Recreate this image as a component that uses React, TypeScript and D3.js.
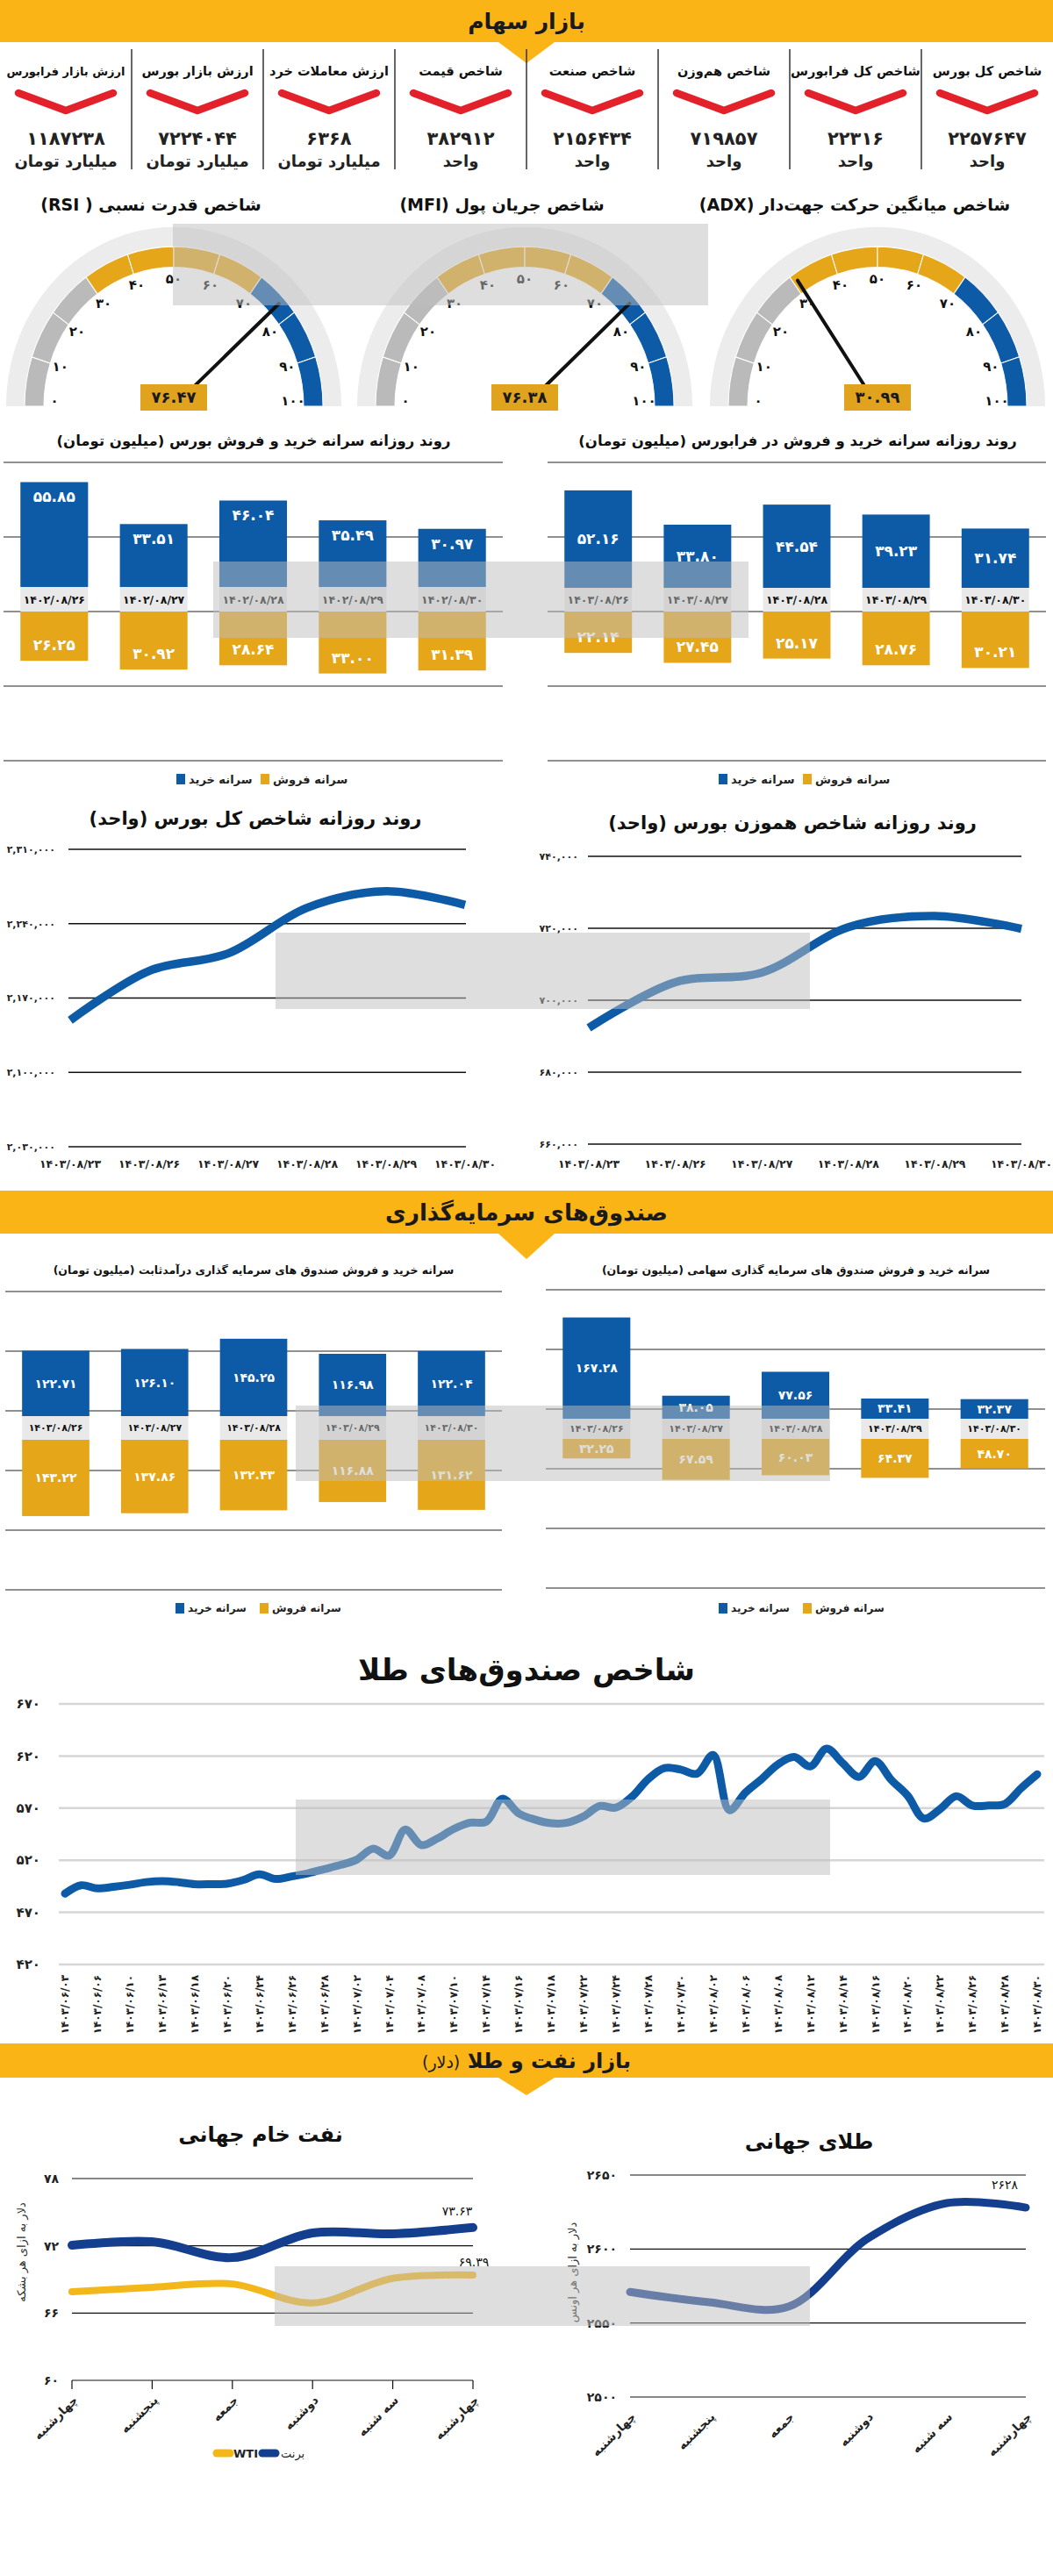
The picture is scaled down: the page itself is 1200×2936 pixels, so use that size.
import React from "react";
import * as d3 from "d3";

const FA_DIGITS = "۰۱۲۳۴۵۶۷۸۹";
const fa = (s: string | number) => String(s).replace(/[0-9]/g, (d) => FA_DIGITS[+d]);
const FONT = '"DejaVu Sans", sans-serif';

const BAND_YELLOW = "#fbb416";
const BLUE = "#0d5ba7";
const GOLD = "#e5a61a";
const NAVY = "#143f8e";
const GAUGE_GRAY = "#bababa";

// ---------------- DATA ----------------
const statTitles = ["شاخص کل بورس", "شاخص کل فرابورس", "شاخص هم‌وزن", "شاخص صنعت", "شاخص قیمت", "ارزش معاملات خرد", "ارزش بازار بورس", "ارزش بازار فرابورس"];
const statValues = [2257647, 22316, 719857, 2156434, 382912, 6368, 7224044, 1187238];
const statUnits = ["واحد", "واحد", "واحد", "واحد", "واحد", "میلیارد تومان", "میلیارد تومان", "میلیارد تومان"];

const gaugeTitles = ["شاخص قدرت نسبی ( RSI)", "شاخص جریان پول (MFI)", "شاخص میانگین حرکت جهت‌دار (ADX)"];
const gaugeValues = [76.47, 76.38, 30.99];
const gaugeTicks = [0, 10, 20, 30, 40, 50, 60, 70, 80, 90, 100];
const gaugeZoneBreaks = [30, 70];

const bourseDates = ["1402/08/26", "1402/08/27", "1402/08/28", "1402/08/29", "1402/08/30"];
const bourseBuy = [55.85, 33.51, 46.04, 35.49, 30.97];
const bourseSell = [26.25, 30.92, 28.64, 33.0, 31.39];

const farabourseDates = ["1403/08/26", "1403/08/27", "1403/08/28", "1403/08/29", "1403/08/30"];
const farabourseBuy = [52.16, 33.8, 44.54, 39.23, 31.74];
const farabourseSell = [22.14, 27.45, 25.17, 28.76, 30.21];

const indexDates = ["1403/08/23", "1403/08/26", "1403/08/27", "1403/08/28", "1403/08/29", "1403/08/30"];
const totalIndex = [2149000, 2195500, 2212000, 2255000, 2270500, 2257647];
const totalIndexTicks = [2030000, 2100000, 2170000, 2240000, 2310000];
const equalIndex = [692300, 705000, 707700, 720300, 723400, 719857];
const equalIndexTicks = [660000, 680000, 700000, 720000, 740000];

const fundDates = ["1403/08/26", "1403/08/27", "1403/08/28", "1403/08/29", "1403/08/30"];
const fixedBuy = [122.71, 126.1, 145.25, 116.98, 122.04];
const fixedSell = [143.22, 137.86, 132.43, 116.88, 131.62];
const equityBuy = [167.28, 38.05, 77.56, 33.41, 32.37];
const equitySell = [32.25, 67.59, 60.03, 64.37, 48.7];

const goldFundLabels = ["1403/06/03", "1403/06/06", "1403/06/10", "1403/06/13", "1403/06/18", "1403/06/20", "1403/06/24", "1403/06/26", "1403/06/28", "1403/07/02", "1403/07/04", "1403/07/08", "1403/07/10", "1403/07/14", "1403/07/16", "1403/07/18", "1403/07/22", "1403/07/24", "1403/07/28", "1403/07/30", "1403/08/02", "1403/08/06", "1403/08/08", "1403/08/12", "1403/08/14", "1403/08/16", "1403/08/20", "1403/08/22", "1403/08/26", "1403/08/28", "1403/08/30"];
const goldFundValues = [488, 496, 493, 494.5, 496.5, 499, 500, 499, 497, 497, 497.5, 501, 506.5, 502, 504.5, 507.5, 511.5, 515.5, 520.5, 531, 524.5, 549.5, 534.5, 541, 550, 556, 557, 579, 565, 559, 555.5, 556, 562, 572, 570.5, 581, 598, 608.5, 607, 603, 621, 568, 585, 598, 612, 619, 610, 627, 613, 600, 615, 597, 582, 560, 569, 581.5, 572.5, 572.5, 574, 589, 602.5];
const goldFundTicks = [420, 470, 520, 570, 620, 670];

const weekDays = ["چهارشنبه", "پنجشنبه", "جمعه", "دوشنبه", "سه شنبه", "چهارشنبه "];
const brent = [72.05, 72.36, 70.95, 73.15, 73.07, 73.63];
const wti = [67.9, 68.3, 68.6, 66.9, 69.1, 69.39];
const oilTicks = [60, 66, 72, 78];
const worldGold = [2571, 2564, 2561, 2607, 2631, 2628];
const worldGoldTicks = [2500, 2550, 2600, 2650];

// ---------------- COMPONENTS ----------------
function SectionBand({ y, h, apex, children, size }: any) {
  return (
    <g>
      <rect x={0} y={y} width={1200} height={h} fill={BAND_YELLOW} />
      <path d={`M568,${y + h} L632,${y + h} L600,${apex} Z`} fill={BAND_YELLOW} />
      <text x={600} y={y + h / 2} dy="0.36em" textAnchor="middle" direction="rtl" fontSize={size} fontWeight="bold" fill="#1a1a1a">
        {children}
      </text>
    </g>
  );
}

function StatsRow() {
  return (
    <g>
      {d3.range(1, 8).map((k) => (
        <line key={k} x1={150 * k} x2={150 * k} y1={56} y2={193} stroke="#333" strokeWidth={1.5} />
      ))}
      {statTitles.map((t, i) => {
        const cx = 1125 - 150 * i;
        return (
          <g key={i}>
            <text x={cx} y={86} textAnchor="middle" direction="rtl" fontSize={t.length > 16 ? 13 : 14.5} fontWeight="bold" fill="#111">{t}</text>
            <path d={`M${cx - 54},${106} L${cx},${126} L${cx + 54},${106}`} fill="none" stroke="#e3212b" strokeWidth={8.5} strokeLinecap="round" strokeLinejoin="round" />
            <text x={cx} y={165} textAnchor="middle" fontSize={21} fontWeight="bold" fill="#222">{fa(statValues[i])}</text>
            <text x={cx} y={190} textAnchor="middle" direction="rtl" fontSize={18} fontWeight="bold" fill="#222">{statUnits[i]}</text>
          </g>
        );
      })}
    </g>
  );
}

function Gauge({ cx, cy, value, title }: any) {
  const sy = 1.07;
  const ang = (v: number) => ((-90 + v * 1.8) * Math.PI) / 180;
  const arc = d3.arc<any>();
  const bg = arc({ innerRadius: 170, outerRadius: 191, startAngle: -Math.PI / 2, endAngle: Math.PI / 2 });
  const segs = d3.range(0, 100, 10).map((v) => ({
    v,
    d: arc({ innerRadius: 148, outerRadius: 170, startAngle: ang(v), endAngle: ang(v + 10) }),
    c: v < gaugeZoneBreaks[0] ? GAUGE_GRAY : v < gaugeZoneBreaks[1] ? GOLD : BLUE,
  }));
  const a = ang(value);
  const pt = (r: number, an: number) => [cx + r * Math.sin(an), cy - r * Math.cos(an) * sy];
  const [nx1, ny1] = pt(28, a);
  const [nx2, ny2] = pt(162, a);
  return (
    <g>
      <text x={cx - 26} y={240} textAnchor="middle" direction="rtl" fontSize={19} fontWeight="bold" fill="#111">{title}</text>
      <g transform={`translate(${cx},${cy}) scale(1,${sy})`}>
        <path d={bg as string} fill="#ececec" />
        {segs.map((s) => (
          <path key={s.v} d={s.d as string} fill={s.c} stroke="#fff" strokeWidth={1} />
        ))}
      </g>
      {gaugeTicks.map((t) => {
        const [lx, ly] = pt(136, ang(t));
        return (
          <text key={t} x={lx} y={ly - (t === 0 || t === 100 ? 6 : 0)} dy="0.35em" textAnchor="middle" fontSize={15} fontWeight="bold" fill="#111">{fa(t)}</text>
        );
      })}
      <line x1={nx1} y1={ny1} x2={nx2} y2={ny2} stroke="#111" strokeWidth={4} strokeLinecap="round" />
      <rect x={cx - 38} y={cy - 25} width={76} height={30} fill="#e1a31d" />
      <text x={cx} y={cy - 10} dy="0.35em" textAnchor="middle" fontSize={18} fontWeight="bold" fill="#1a1a1a">{fa(value.toFixed(2))}</text>
    </g>
  );
}

function Legend({ cx, y, size }: any) {
  return (
    <g fontSize={size} fontWeight="bold" fill="#222">
      <rect x={cx - 91} y={y - 6} width={10} height={12} fill={BLUE} />
      <text x={cx - 77} y={y} dy="0.35em" textAnchor="start">سرانه خرید</text>
      <rect x={cx + 5} y={y - 6} width={10} height={12} fill={GOLD} />
      <text x={cx + 19} y={y} dy="0.35em" textAnchor="start">سرانه فروش</text>
    </g>
  );
}

function BarChart(p: any) {
  const xs = d3.scaleBand().domain(p.dates).range([p.x0, p.x1]).paddingInner(0.32).paddingOuter(0.17);
  const maxV = d3.max([...p.buy, ...p.sell]) as number;
  const yBuy = d3.scaleLinear().domain([0, maxV]).range([p.buyBase, p.buyBase - maxV * p.k]);
  const ySell = d3.scaleLinear().domain([0, maxV]).range([p.sellBase, p.sellBase + maxV * p.k]);
  const grid = d3.range(p.nGrid).map((i) => p.gridTop + ((p.gridBottom - p.gridTop) * i) / (p.nGrid - 1));
  const f2 = d3.format(".2f");
  const bw = xs.bandwidth();
  return (
    <g>
      <text x={p.titleX} y={p.titleY} textAnchor="middle" direction="rtl" fontSize={p.titleSize} fontWeight="bold" fill="#111">{p.title}</text>
      {grid.map((gy: number, i: number) => (
        <line key={i} x1={p.gx0} x2={p.gx1} y1={gy} y2={gy} stroke="#222" strokeWidth={1.2} />
      ))}
      {p.dates.map((d: string, i: number) => {
        const x = xs(d) as number;
        const bTop = yBuy(p.buy[i]);
        const sBot = ySell(p.sell[i]);
        const buyLy = p.buyLabel === "end" ? bTop + 17 : (bTop + p.buyBase) / 2;
        const sellLy = p.sellLabel === "end" ? sBot - 18 : (sBot + p.sellBase) / 2;
        return (
          <g key={d}>
            <rect x={x} y={bTop} width={bw} height={p.buyBase - bTop} fill={BLUE} />
            <rect x={x} y={p.buyBase} width={bw} height={p.sellBase - p.buyBase} fill="#e9e9e9" />
            <rect x={x} y={p.sellBase} width={bw} height={sBot - p.sellBase} fill={GOLD} />
            <text x={x + bw / 2} y={(p.buyBase + p.sellBase) / 2} dy="0.36em" textAnchor="middle" fontSize={p.dateSize} fontWeight="bold" fill="#111">{fa(d)}</text>
            <text x={x + bw / 2} y={buyLy} dy="0.35em" textAnchor="middle" fontSize={p.valueSize} fontWeight="bold" fill="#fff">{fa(f2(p.buy[i]))}</text>
            <text x={x + bw / 2} y={sellLy} dy="0.35em" textAnchor="middle" fontSize={p.valueSize} fontWeight="bold" fill="#fff">{fa(f2(p.sell[i]))}</text>
          </g>
        );
      })}
      <Legend cx={p.legendX} y={p.legendY} size={p.legendSize} />
    </g>
  );
}

function IndexLine(p: any) {
  const x = d3.scalePoint().domain(p.labels).range([p.xl, p.xr]);
  const y = d3.scaleLinear().domain([p.ticks[0], p.ticks[p.ticks.length - 1]]).range([p.yb, p.yt]);
  const line = d3
    .line<number>()
    .x((_, i) => x(p.labels[i]) as number)
    .y((d) => y(d))
    .curve(d3.curveCatmullRom.alpha(0.5));
  const fmt = d3.format(",");
  return (
    <g>
      <text x={p.titleX} y={p.titleY} textAnchor="middle" direction="rtl" fontSize={21} fontWeight="bold" fill="#111">{p.title}</text>
      {p.ticks.map((t: number) => (
        <g key={t}>
          <line x1={p.gl} x2={p.gr} y1={y(t)} y2={y(t)} stroke="#111" strokeWidth={1.3} />
          <text x={p.tickX} y={y(t)} dy="0.35em" textAnchor="end" fontSize={11} fontWeight="bold" fill="#222">{fa(fmt(t))}</text>
        </g>
      ))}
      <path d={line(p.values) as string} fill="none" stroke={BLUE} strokeWidth={9.5} />
      {p.labels.map((l: string) => (
        <text key={l} x={x(l)} y={1327} dy="0.35em" textAnchor="middle" fontSize={12.5} fontWeight="bold" fill="#222">{fa(l)}</text>
      ))}
    </g>
  );
}

function GoldFundChart() {
  const n = goldFundValues.length;
  const x = d3.scaleLinear().domain([0, n - 1]).range([74, 1182]);
  const y = d3.scaleLinear().domain([420, 670]).range([2239, 1942]);
  const line = d3
    .line<number>()
    .x((_, i) => x(i))
    .y((d) => y(d))
    .curve(d3.curveCatmullRom.alpha(0.5));
  const step = (n - 1) / (goldFundLabels.length - 1);
  return (
    <g>
      <text x={600} y={1915} textAnchor="middle" direction="rtl" fontSize={34} fontWeight="bold" fill="#111">شاخص صندوق‌های طلا</text>
      {goldFundTicks.map((t) => (
        <g key={t}>
          <line x1={67} x2={1190} y1={y(t)} y2={y(t)} stroke="#d6d6d6" strokeWidth={2.5} />
          <text x={46} y={y(t)} dy="0.35em" textAnchor="end" fontSize={15} fontWeight="bold" fill="#222">{fa(t)}</text>
        </g>
      ))}
      <path d={line(goldFundValues) as string} fill="none" stroke={BLUE} strokeWidth={9} strokeLinejoin="round" strokeLinecap="round" />
      {goldFundLabels.map((l, i) => (
        <text key={l} transform={`translate(${x(i * step)},${2251}) rotate(-90)`} dy="0.35em" textAnchor="end" fontSize={12} fontWeight="bold" fill="#222">{fa(l)}</text>
      ))}
    </g>
  );
}

function WeekChart(p: any) {
  const x = d3.scalePoint().domain(d3.range(weekDays.length).map(String)).range([p.xl, p.xr]);
  const y = d3.scaleLinear().domain([p.ticks[0], p.ticks[p.ticks.length - 1]]).range([p.yb, p.yt]);
  const line = d3
    .line<number>()
    .x((_, i) => x(String(i)) as number)
    .y((d) => y(d))
    .curve(d3.curveCatmullRom.alpha(0.5));
  return (
    <g>
      <text x={p.titleX} y={p.titleY} textAnchor="middle" direction="rtl" fontSize={24} fontWeight="bold" fill="#111">{p.title}</text>
      {p.ticks.map((t: number) => (
        <g key={t}>
          <line x1={p.xl} x2={p.xr} y1={y(t)} y2={y(t)} stroke="#111" strokeWidth={1.2} />
          <text x={p.tickX} y={y(t)} dy="0.35em" textAnchor="end" fontSize={14} fontWeight="bold" fill="#222">{fa(t)}</text>
        </g>
      ))}
      {p.tickMarks &&
        weekDays.map((_: string, i: number) => (
          <line key={i} x1={x(String(i))} x2={x(String(i))} y1={p.yb} y2={p.yb + 10} stroke="#111" strokeWidth={1.2} />
        ))}
      <text transform={`translate(${p.axisTitleX},${p.axisTitleY}) rotate(-90)`} dy="0.35em" textAnchor="middle" direction="rtl" fontSize={13} fill="#333">{p.axisTitle}</text>
      {p.series.map((s: any, k: number) => (
        <path key={k} d={line(s.values) as string} fill="none" stroke={s.color} strokeWidth={s.width} strokeLinecap="round" />
      ))}
      {p.series.map((s: any, k: number) => (
        <text key={"l" + k} x={s.labelX} y={s.labelY} dy="0.35em" textAnchor="middle" fontSize={14} fill="#111">{fa(s.values[s.values.length - 1])}</text>
      ))}
      {weekDays.map((d: string, i: number) => (
        <text key={i} transform={`translate(${(x(String(i)) as number) + 4},${p.yb + p.labelOffset}) rotate(-45)`} dy="0.35em" textAnchor="end" fontSize={13.5} fontWeight="bold" fill="#222">{d.trim()}</text>
      ))}
    </g>
  );
}

const watermarks = [
  { x: 197, y: 255, w: 610, h: 93 },
  { x: 243, y: 640, w: 610, h: 87 },
  { x: 314, y: 1063, w: 609, h: 87 },
  { x: 337, y: 1602, w: 609, h: 86 },
  { x: 337, y: 2051, w: 609, h: 86 },
  { x: 313, y: 2583, w: 610, h: 68 },
];

export default function App() {
  const W = 1200;
  const H = 2936;
  return (
    <svg width={W} height={H} viewBox={`0 0 ${W} ${H}`} style={{ position: "absolute", left: 0, top: 0, display: "block" }} fontFamily={FONT}>
      <rect width={W} height={H} fill="#fff" />
      <SectionBand y={0} h={48} apex={72} size={25}>بازار سهام</SectionBand>
      <StatsRow />
      {gaugeValues.map((v, i) => (
        <Gauge key={i} cx={[198, 598, 1000][i]} cy={463} value={v} title={gaugeTitles[i]} />
      ))}

      <BarChart
        dates={bourseDates} buy={bourseBuy} sell={bourseSell}
        x0={4} x1={573} gx0={4} gx1={573} gridTop={527} gridBottom={867} nGrid={5}
        buyBase={669} sellBase={697} k={2.14}
        title="روند روزانه سرانه خرید و فروش بورس (میلیون تومان)" titleX={289} titleY={508} titleSize={16.5}
        legendX={292} legendY={888} legendSize={13} buyLabel="end" sellLabel="end" valueSize={17} dateSize={12.5}
      />
      <BarChart
        dates={farabourseDates} buy={farabourseBuy} sell={farabourseSell}
        x0={624} x1={1192} gx0={624} gx1={1192} gridTop={527} gridBottom={867} nGrid={5}
        buyBase={670} sellBase={697} k={2.13}
        title="روند روزانه سرانه خرید و فروش در فرابورس (میلیون تومان)" titleX={909} titleY={508} titleSize={16.5}
        legendX={910} legendY={888} legendSize={13} buyLabel="center" sellLabel="end" valueSize={17} dateSize={12.5}
      />

      <IndexLine
        labels={indexDates} values={totalIndex} ticks={totalIndexTicks}
        xl={80} xr={530} gl={78} gr={531} yt={968} yb={1307} tickX={63}
        title="روند روزانه شاخص کل بورس (واحد)" titleX={291} titleY={940}
      />
      <IndexLine
        labels={indexDates} values={equalIndex} ticks={equalIndexTicks}
        xl={671} xr={1164} gl={670} gr={1164} yt={976} yb={1304} tickX={659}
        title="روند روزانه شاخص هموزن بورس (واحد)" titleX={903} titleY={945}
      />

      <SectionBand y={1357} h={49} apex={1435} size={26}>صندوق‌های سرمایه‌گذاری</SectionBand>
      <BarChart
        dates={fundDates} buy={fixedBuy} sell={fixedSell}
        x0={6} x1={572} gx0={6} gx1={572} gridTop={1472} gridBottom={1812} nGrid={6}
        buyBase={1614} sellBase={1641} k={0.607}
        title="سرانه خرید و فروش صندوق های سرمایه گذاری درآمدثابت (میلیون تومان)" titleX={289} titleY={1452} titleSize={12.5}
        legendX={291} legendY={1833} legendSize={12} buyLabel="center" sellLabel="center" valueSize={14} dateSize={11}
      />
      <BarChart
        dates={fundDates} buy={equityBuy} sell={equitySell}
        x0={622} x1={1191} gx0={622} gx1={1191} gridTop={1470} gridBottom={1810} nGrid={6}
        buyBase={1617} sellBase={1640} k={0.69}
        title="سرانه خرید و فروش صندوق های سرمایه گذاری سهامی (میلیون تومان)" titleX={907} titleY={1452} titleSize={12.5}
        legendX={910} legendY={1833} legendSize={12} buyLabel="center" sellLabel="center" valueSize={14} dateSize={11}
      />

      <GoldFundChart />

      <rect x={0} y={2329} width={1200} height={39} fill={BAND_YELLOW} />
      <path d="M568,2368 L632,2368 L600,2388 Z" fill={BAND_YELLOW} />
      <text x={600} y={2357} textAnchor="middle" direction="rtl" fontSize={24} fontWeight="bold" fill="#1a1a1a">
        بازار نفت و طلا <tspan fontWeight="normal" fontSize={19}>(دلار)</tspan>
      </text>

      <WeekChart
        title="نفت خام جهانی" titleX={297} titleY={2441}
        ticks={oilTicks} xl={82} xr={539} yt={2483} yb={2713} tickX={67} tickMarks={true} labelOffset={20}
        axisTitle="دلار به ازای هر بشکه" axisTitleX={24} axisTitleY={2567}
        series={[
          { values: wti, color: "#f4b719", width: 8, labelX: 540, labelY: 2578 },
          { values: brent, color: NAVY, width: 10, labelX: 521, labelY: 2520 },
        ]}
      />
      <g fontSize={13} fill="#222">
        <line x1={247} x2={262} y1={2796} y2={2796} stroke="#f4b719" strokeWidth={9} strokeLinecap="round" />
        <text x={266} y={2796} dy="0.35em" textAnchor="start" fontWeight="bold">WTI</text>
        <line x1={299} x2={314} y1={2796} y2={2796} stroke={NAVY} strokeWidth={9} strokeLinecap="round" />
        <text x={320} y={2796} dy="0.35em" textAnchor="start">برنت</text>
      </g>

      <WeekChart
        title="طلای جهانی" titleX={922} titleY={2449}
        ticks={worldGoldTicks} xl={718} xr={1169} yt={2479} yb={2732} tickX={703} tickMarks={false} labelOffset={20}
        axisTitle="دلار به ازای هر اونس" axisTitleX={652} axisTitleY={2590}
        series={[{ values: worldGold, color: NAVY, width: 9, labelX: 1145, labelY: 2490 }]}
      />

      {watermarks.map((w, i) => (
        <rect key={i} x={w.x} y={w.y} width={w.w} height={w.h} fill="#bdbdbd" opacity={0.5} />
      ))}
    </svg>
  );
}
